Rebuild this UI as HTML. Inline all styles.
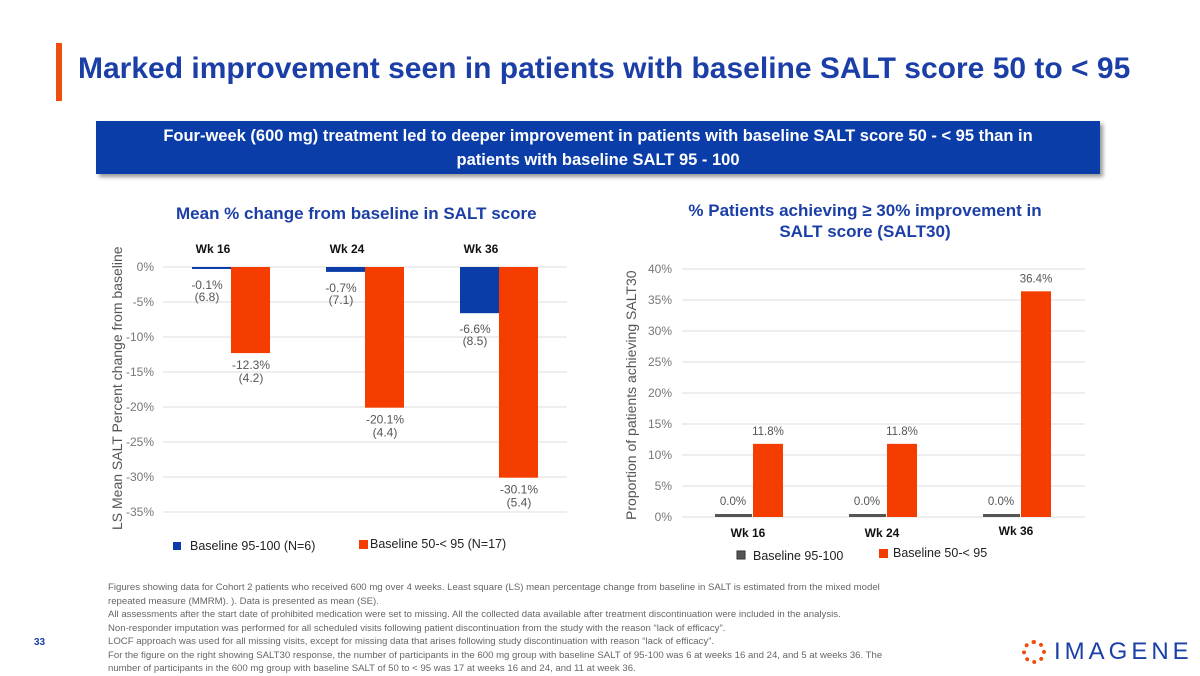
<!DOCTYPE html>
<html><head><meta charset="utf-8"><style>
body{margin:0;width:1200px;height:675px;background:#fff;font-family:"Liberation Sans",sans-serif;overflow:hidden;position:relative}
.abs{position:absolute}
</style></head><body>
<div class="abs" style="left:56px;top:43px;width:6px;height:58px;background:#f04e0f"></div>
<div class="abs" style="left:78px;top:52px;font-size:30px;font-weight:bold;color:#1b3fa6;white-space:nowrap">Marked improvement seen in patients with baseline SALT score 50 to &lt; 95</div>
<div class="abs" style="left:96px;top:121px;width:1004px;height:50px;background:#0b3da8;box-shadow:3px 3px 4px #999;color:#fff;font-weight:bold;font-size:16.5px;text-align:center;line-height:24px;padding-top:3px">Four-week (600 mg) treatment led to deeper improvement in patients with baseline SALT score 50 - &lt; 95 than in<br>patients with baseline SALT 95 - 100</div>
<div class="abs" style="left:176px;top:204px;font-size:17px;font-weight:bold;color:#1b3fa6">Mean % change from baseline in SALT score</div>
<div class="abs" style="left:660px;top:200px;width:410px;text-align:center;font-size:17px;font-weight:bold;color:#1b3fa6;line-height:21px">% Patients achieving ≥ 30% improvement in<br>SALT score (SALT30)</div>
<svg class="abs" style="left:0;top:0" width="1200" height="675" id="charts"></svg>
<div class="abs" style="left:108px;top:581px;width:782px;font-size:9.6px;line-height:13.5px;color:#666">Figures showing data for Cohort 2 patients who received 600 mg over 4 weeks. Least square (LS) mean percentage change from baseline in SALT is estimated from the mixed model repeated measure (MMRM). ). Data is presented as mean (SE).<br>All assessments after the start date of prohibited medication were set to missing. All the collected data available after treatment discontinuation were included in the analysis.<br>Non-responder imputation was performed for all scheduled visits following patient discontinuation from the study with the reason “lack of efficacy”.<br>LOCF approach was used for all missing visits, except for missing data that arises following study discontinuation with reason “lack of efficacy”.<br>For the figure on the right showing SALT30 response, the number of participants in the 600 mg group with baseline SALT of 95-100 was 6 at weeks 16 and 24, and 5 at weeks 36. The number of participants in the 600 mg group with baseline SALT of 50 to &lt; 95 was 17 at weeks 16 and 24, and 11 at week 36.</div>
<div class="abs" style="left:34px;top:637px;font-size:10px;font-weight:bold;color:#1b3fa6">33</div>
<div class="abs" style="left:1022px;top:638px;display:flex;align-items:center">
<div style="width:24px;height:24px;border-radius:50%;border:4px dotted #f04e0f;box-sizing:border-box;margin-right:8px"></div>
<span style="font-size:24px;color:#1b3fa6;letter-spacing:4px">IMAGENE</span></div>
<script>
const categories=["Wk 16","Wk 24","Wk 36"];
const leftBlue=[-0.1,-0.7,-6.6];
const leftBlueSE=["(6.8)","(7.1)","(8.5)"];
const leftOrange=[-12.3,-20.1,-30.1];
const leftOrangeSE=["(4.2)","(4.4)","(5.4)"];
const leftTicks=[0,-5,-10,-15,-20,-25,-30,-35];
const rightBlue=[0.0,0.0,0.0];
const rightOrange=[11.8,11.8,36.4];
const rightTicks=[0,5,10,15,20,25,30,35,40];
const svg=document.getElementById('charts');
const NS='http://www.w3.org/2000/svg';
function mk(t,a,txt){const e=document.createElementNS(NS,t);for(const k in a)e.setAttribute(k,a[k]);if(txt!=null)e.textContent=txt;svg.appendChild(e);return e;}
const fmt=v=>v.toFixed(1)+'%';
// left chart
const ly=v=>267+(-v)*7;
leftTicks.forEach(t=>{
 const l=mk('line',{x1:163,x2:567,y1:ly(t),y2:ly(t),stroke:'#ddd'});
 
 const tx=mk('text',{x:154,y:ly(t)+4,'text-anchor':'end','font-size':12,fill:'#777'},t+'%');
 
});
categories.forEach((c,i)=>{
 const gx=163+i*134;
 const h=mk('text',{x:gx+50,y:253,'text-anchor':'middle','font-size':12,'font-weight':'bold',fill:'#111'},c);
 
 const b=mk('rect',{x:gx+29,y:ly(0),width:39,height:Math.max(2,ly(leftBlue[i])-ly(0)),fill:'#0b3da8'});
 
 const o=mk('rect',{x:gx+68,y:ly(0),width:39,height:ly(leftOrange[i])-ly(0),fill:'#f53d00'});
 
 const by=Math.max(ly(leftBlue[i]),ly(0)+2);
 const t1=mk('text',{x:gx+44,y:by+20,'text-anchor':'middle','font-size':12,fill:'#555'},fmt(leftBlue[i]));
 
 mk('text',{x:gx+44,y:by+32,'text-anchor':'middle','font-size':12,fill:'#555'},leftBlueSE[i]);
 const t2=mk('text',{x:gx+88,y:ly(leftOrange[i])+16,'text-anchor':'middle','font-size':12,fill:'#555'},fmt(leftOrange[i]));
 
 mk('text',{x:gx+88,y:ly(leftOrange[i])+29,'text-anchor':'middle','font-size':12,fill:'#555'},leftOrangeSE[i]);
});
const yl=mk('text',{x:0,y:0,transform:'translate(122,530) rotate(-90)','font-size':14,fill:'#555'},'LS Mean SALT Percent change from baseline');

let e=mk('rect',{x:173,y:542,width:8,height:8,fill:'#0b3da8'});
e=mk('text',{x:190,y:550,'font-size':12.5,fill:'#222'},'Baseline 95-100 (N=6)');
e=mk('rect',{x:359,y:540,width:9,height:9,fill:'#f53d00'});
e=mk('text',{x:370,y:548,'font-size':12.5,fill:'#222'},'Baseline 50-< 95 (N=17)');
// right chart
const ry=v=>517-v*6.2;
rightTicks.forEach(t=>{
 const l=mk('line',{x1:682,x2:1085,y1:ry(t),y2:ry(t),stroke:'#ddd'});
 
 const tx=mk('text',{x:672,y:ry(t)+4,'text-anchor':'end','font-size':12,fill:'#777'},t+'%');
 
});
categories.forEach((c,i)=>{
 const gx=682+i*134;
 const h=mk('text',{x:gx+66,y:537-(i==2?2:0),'text-anchor':'middle','font-size':12,'font-weight':'bold',fill:'#111'},c);
 
 const b=mk('rect',{x:gx+33,y:Math.min(ry(rightBlue[i]),ry(0)-3),width:37,height:Math.max(3,ry(0)-ry(rightBlue[i])),fill:'#555'});
 
 const o=mk('rect',{x:gx+71,y:ry(rightOrange[i]),width:30,height:ry(0)-ry(rightOrange[i]),fill:'#f53d00'});
 
 const t1=mk('text',{x:gx+51,y:ry(rightBlue[i])-12,'text-anchor':'middle','font-size':11.5,fill:'#555'},fmt(rightBlue[i]));
 
 const t2=mk('text',{x:gx+86,y:ry(rightOrange[i])-9,'text-anchor':'middle','font-size':11.5,fill:'#555'},fmt(rightOrange[i]));
 
});
e=mk('text',{x:0,y:0,transform:'translate(636,520) rotate(-90)','font-size':14,fill:'#555'},'Proportion of patients achieving SALT30');

e=mk('rect',{x:737,y:551,width:8,height:8,fill:'#555',stroke:'#333'});
e=mk('text',{x:753,y:560,'font-size':12.5,fill:'#222'},'Baseline 95-100');
e=mk('rect',{x:879,y:549,width:9,height:9,fill:'#f53d00'});
e=mk('text',{x:893,y:557,'font-size':12.5,fill:'#222'},'Baseline 50-< 95');
</script>
</body></html>
